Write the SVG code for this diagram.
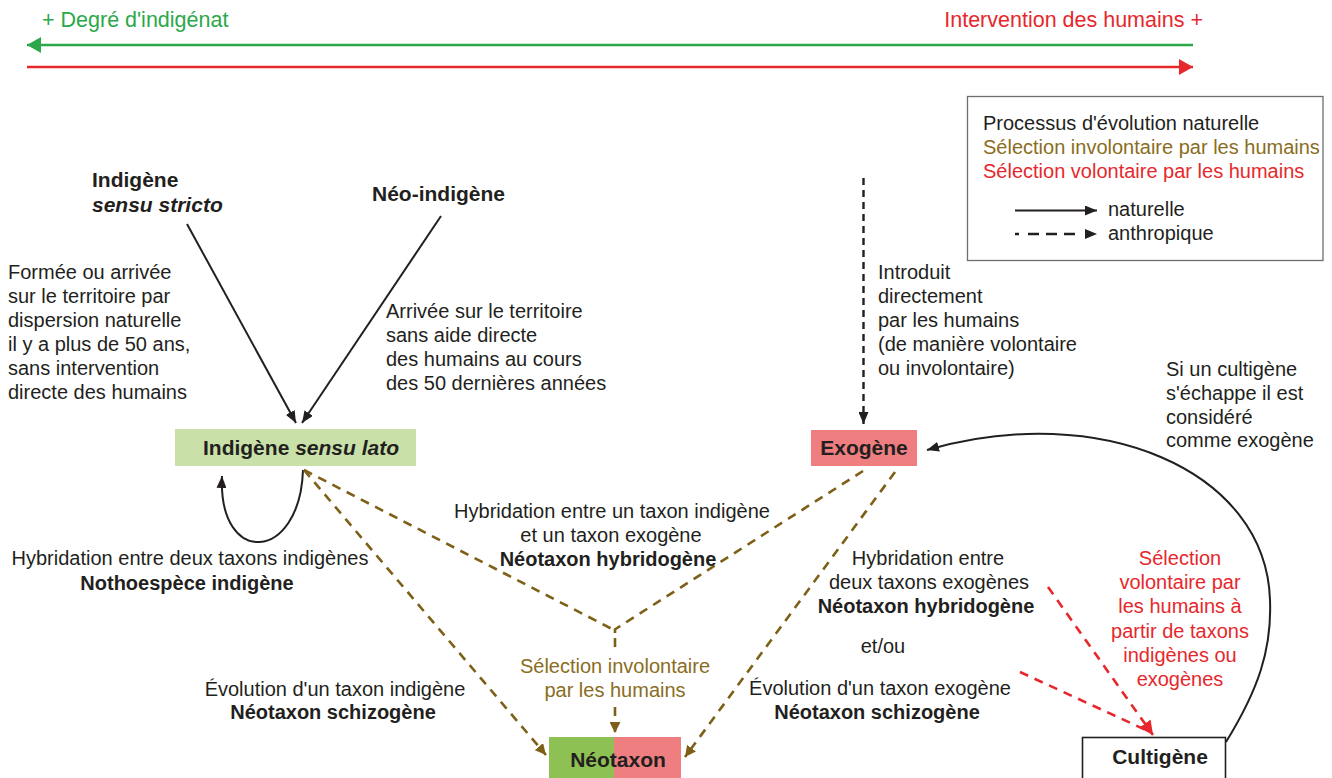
<svg xmlns="http://www.w3.org/2000/svg" width="1332" height="778" viewBox="0 0 1332 778">
<style>
text{font-family:"Liberation Sans",Arial,sans-serif;font-size:20px;fill:#231f20}
.b{font-weight:bold}
.n{font-weight:bold;font-size:21px}
.c{text-anchor:middle}
.br{fill:#8a6d1e}
.rd{fill:#e6282c}
.gr{fill:#2ba84a}
.top{font-size:21.5px}
.solid{stroke:#231f20;stroke-width:2;fill:none}
.dblack{stroke:#231f20;stroke-width:2.4;fill:none;stroke-dasharray:7 5}
.dbrown{stroke:#7d5f17;stroke-width:2.6;fill:none;stroke-dasharray:9 7}
.dred{stroke:#e6282c;stroke-width:2.6;fill:none;stroke-dasharray:9 7}
</style>
<defs>
<marker id="ak" viewBox="0 0 12 10" refX="12" refY="5" markerWidth="12" markerHeight="10" markerUnits="userSpaceOnUse" orient="auto"><path d="M0,0 L12,5 L0,10 z" fill="#231f20"/></marker>
<marker id="abr" viewBox="0 0 11 11" refX="11" refY="5.5" markerWidth="11" markerHeight="11" markerUnits="userSpaceOnUse" orient="auto"><path d="M0,0 L11,5.5 L0,11 z" fill="#7d5f17"/></marker>
<marker id="ard" viewBox="0 0 14 14" refX="14" refY="7" markerWidth="14" markerHeight="14" markerUnits="userSpaceOnUse" orient="auto"><path d="M0,0 L14,7 L0,14 z" fill="#e6282c"/></marker>
<marker id="agr" viewBox="0 0 14 16" refX="14" refY="8" markerWidth="14" markerHeight="16" markerUnits="userSpaceOnUse" orient="auto"><path d="M0,0 L14,8 L0,16 z" fill="#2ba84a"/></marker>
<marker id="ared" viewBox="0 0 14 16" refX="14" refY="8" markerWidth="14" markerHeight="16" markerUnits="userSpaceOnUse" orient="auto"><path d="M0,0 L14,8 L0,16 z" fill="#e6282c"/></marker>
</defs>

<g id="scale">
<text class="top gr" x="42" y="27">+ Degré d'indigénat</text>
<text class="top rd" x="1203" y="27" text-anchor="end">Intervention des humains +</text>
<line x1="1193" y1="45" x2="27" y2="45" stroke="#2ba84a" stroke-width="2.4" marker-end="url(#agr)"/>
<line x1="27" y1="67" x2="1193" y2="67" stroke="#e6282c" stroke-width="2.4" marker-end="url(#ared)"/>
</g>

<g id="legend">
<rect x="967.5" y="96.5" width="355.5" height="164" fill="#fff" stroke="#6d6e70" stroke-width="1.3"/>
<text x="983" y="130">Processus d'évolution naturelle</text>
<text class="br" x="983" y="154">Sélection involontaire par les humains</text>
<text class="rd" x="983" y="178">Sélection volontaire par les humains</text>
<line x1="1015" y1="210.5" x2="1097" y2="210.5" class="solid" stroke-width="2.2" marker-end="url(#ak)"/>
<text x="1108" y="216">naturelle</text>
<line x1="1015" y1="234" x2="1097" y2="234" class="dblack" style="stroke-dasharray:4 9 11 7 11 7 11 40" marker-end="url(#ak)"/>
<text x="1108" y="240">anthropique</text>
</g>

<g id="node-indigene-ss">
<text class="n" x="92" y="187">Indigène</text>
<text class="n" x="92" y="212" font-style="italic">sensu stricto</text>
</g>
<g id="node-neo-indigene">
<text class="n" x="372" y="201">Néo-indigène</text>
</g>
<g id="node-indigene-sl">
<rect x="175" y="429" width="241" height="37" fill="#c9e1a9"/>
<text class="n c" x="301" y="455">Indigène <tspan font-style="italic">sensu lato</tspan></text>
</g>
<g id="node-exogene">
<rect x="811" y="430" width="106" height="36" fill="#ef7e80"/>
<text class="n c" x="864" y="455">Exogène</text>
</g>
<g id="node-neotaxon">
<rect x="549" y="737" width="65" height="41" fill="#8dc153"/>
<rect x="614" y="737" width="67" height="41" fill="#ef7e80"/>
<text class="n c" x="618" y="767">Néotaxon</text>
</g>
<g id="node-cultigene">
<rect x="1082.5" y="737.5" width="143" height="45" fill="#fff" stroke="#231f20" stroke-width="1.6"/>
<text class="n c" x="1160" y="764">Cultigène</text>
</g>

<g id="connectors">
<line x1="187" y1="224" x2="296" y2="423" class="solid" marker-end="url(#ak)"/>
<line x1="441" y1="216" x2="302" y2="423" class="solid" marker-end="url(#ak)"/>
<path d="M303 470 C300 562 218 568 222 476" class="solid" stroke-width="2.2" marker-end="url(#ak)"/>
<line x1="863.5" y1="178" x2="863.5" y2="424" class="dblack" marker-end="url(#ak)"/>
<path d="M1226 742 C1258 690 1272 650 1270 600 C1266 470 1100 400 927 450" class="solid" stroke-width="2.2" marker-end="url(#ak)"/>
<line x1="304" y1="470" x2="614" y2="630" class="dbrown"/>
<line x1="863" y1="471" x2="614" y2="630" class="dbrown"/>
<line x1="304" y1="470" x2="546" y2="755" class="dbrown" marker-end="url(#abr)"/>
<line x1="895" y1="472" x2="685" y2="757" class="dbrown" marker-end="url(#abr)"/>
<line x1="615" y1="630" x2="615" y2="652" class="dbrown" style="stroke-dasharray:3 5 9 7"/>
<line x1="615" y1="707" x2="615" y2="733" class="dbrown" marker-end="url(#abr)"/>
<line x1="1048" y1="587" x2="1153" y2="735" class="dred" marker-end="url(#ard)"/>
<line x1="1020" y1="672" x2="1148" y2="731" class="dred"/>
</g>

<g id="labels">
<text x="8" y="279">Formée ou arrivée</text>
<text x="8" y="303">sur le territoire par</text>
<text x="8" y="327">dispersion naturelle</text>
<text x="8" y="351">il y a plus de 50 ans,</text>
<text x="8" y="375">sans intervention</text>
<text x="8" y="399">directe des humains</text>

<text x="386" y="318">Arrivée sur le territoire</text>
<text x="386" y="342">sans aide directe</text>
<text x="386" y="366">des humains au cours</text>
<text x="386" y="390">des 50 dernières années</text>

<text x="878" y="279">Introduit</text>
<text x="878" y="303">directement</text>
<text x="878" y="327">par les humains</text>
<text x="878" y="351">(de manière volontaire</text>
<text x="878" y="375">ou involontaire)</text>

<text x="1166" y="376">Si un cultigène</text>
<text x="1166" y="400">s'échappe il est</text>
<text x="1166" y="424">considéré</text>
<text x="1166" y="447">comme exogène</text>

<text class="c" x="190" y="565">Hybridation entre deux taxons indigènes</text>
<text class="b c" x="187" y="590">Nothoespèce indigène</text>

<text class="c" x="612" y="518">Hybridation entre un taxon indigène</text>
<text class="c" x="611" y="542">et un taxon exogène</text>
<text class="b c" x="608" y="566">Néotaxon hybridogène</text>

<text class="br c" x="615" y="673">Sélection involontaire</text>
<text class="br c" x="615" y="697">par les humains</text>

<text class="c" x="335" y="696">Évolution d'un taxon indigène</text>
<text class="b c" x="333" y="719">Néotaxon schizogène</text>

<text class="c" x="928" y="565">Hybridation entre</text>
<text class="c" x="929" y="589">deux taxons exogènes</text>
<text class="b c" x="926" y="613">Néotaxon hybridogène</text>
<text class="c" x="883" y="653">et/ou</text>
<text class="c" x="880" y="695">Évolution d'un taxon exogène</text>
<text class="b c" x="877" y="719">Néotaxon schizogène</text>

<text class="rd c" x="1180" y="565">Sélection</text>
<text class="rd c" x="1180" y="589">volontaire par</text>
<text class="rd c" x="1180" y="613">les humains à</text>
<text class="rd c" x="1180" y="638">partir de taxons</text>
<text class="rd c" x="1180" y="662">indigènes ou</text>
<text class="rd c" x="1180" y="686">exogènes</text>
</g>
</svg>
